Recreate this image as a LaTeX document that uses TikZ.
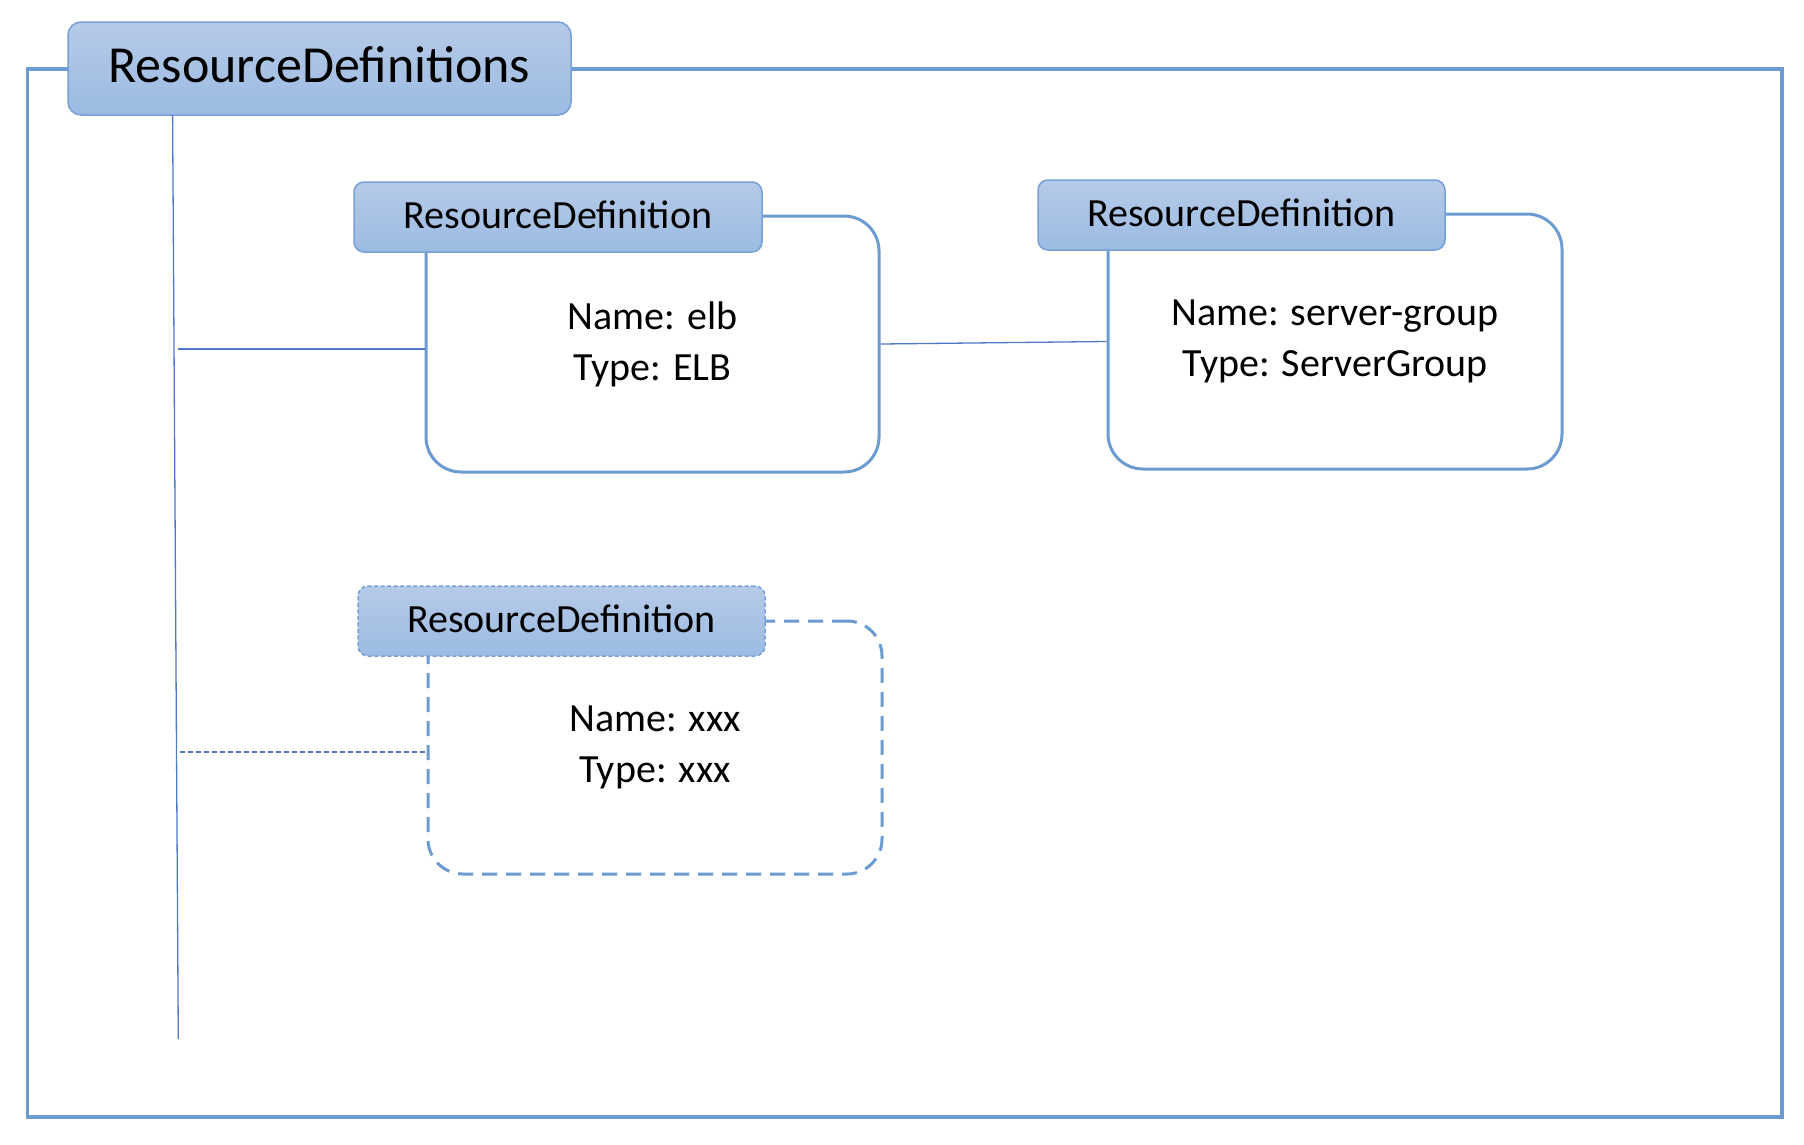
\documentclass[tikz,border=0pt]{standalone}
\usepackage{fontspec}
\setmainfont{Carlito}
\definecolor{frameblue}{RGB}{108,155,210}
\definecolor{lineblue}{RGB}{78,122,200}
\definecolor{hdrtop}{RGB}{182,202,232}
\definecolor{hdrbot}{RGB}{155,187,226}
\definecolor{hdrborder}{RGB}{118,160,214}
\begin{document}
\begin{tikzpicture}[x=1pt,y=-1pt,
  hdrbox/.style={draw=hdrborder, line width=1.5pt, rounded corners=10pt,
    top color=hdrtop, bottom color=hdrbot, inner sep=0pt,
    minimum width=407pt, minimum height=70pt, text depth=4.6pt,
    font=\fontsize{40}{48}\selectfont},
  bodybox/.style={draw=frameblue, line width=3pt, rounded corners=35pt,
    fill=white, inner sep=0pt, align=center,
    minimum width=454pt, minimum height=255pt,
    font=\fontsize{40}{51}\selectfont},
  thinline/.style={draw=lineblue, line width=1.3pt}
]
\useasboundingbox (0,0) rectangle (1804,1144);
% outer frame
\draw[draw=frameblue, line width=3.5pt] (27.6,69) rectangle (1782,1117);

% title
\node[draw=hdrborder, line width=1.5pt, rounded corners=13pt,
  top color=hdrtop, bottom color=hdrbot, inner sep=0pt,
  minimum width=503pt, minimum height=93pt, text depth=7pt,
  font=\fontsize{52}{60}\selectfont] (title) at (319.5,68.5) {ResourceDefinitions};

% spine
\coordinate (vstart) at (172.6,115);
\coordinate (vend) at (178.3,1039);
\draw[thinline] (vstart) -- (vend);

% bodies
\node[bodybox, minimum width=453pt, minimum height=256pt] (body1) at (652.5,344) {Name: elb\\Type: ELB};
\node[bodybox] (body2) at (1335,341.5) {Name: server-group\\Type: ServerGroup};
\node[bodybox, dashed, dash pattern=on 15pt off 9pt, minimum height=253pt] (body3) at (655,747.5) {Name: xxx\\Type: xxx};

% headers
\node[hdrbox, minimum width=408pt] (hdr1) at (558,217) {ResourceDefinition};
\node[hdrbox] (hdr2) at (1241.5,215) {ResourceDefinition};
\node[hdrbox, dash pattern=on 4pt off 2.5pt] (hdr3) at (561.5,621) {ResourceDefinition};

% connectors
\coordinate (b1) at (178,349);
\draw[thinline] (b1) -- (b1 -| body1.west);
\draw[thinline] (body1.east) -- (body2.west);
\coordinate (b3) at (179.5,752);
\draw[thinline, dash pattern=on 5pt off 3pt] (b3) -- (b3 -| body3.west);
\end{tikzpicture}
\end{document}
